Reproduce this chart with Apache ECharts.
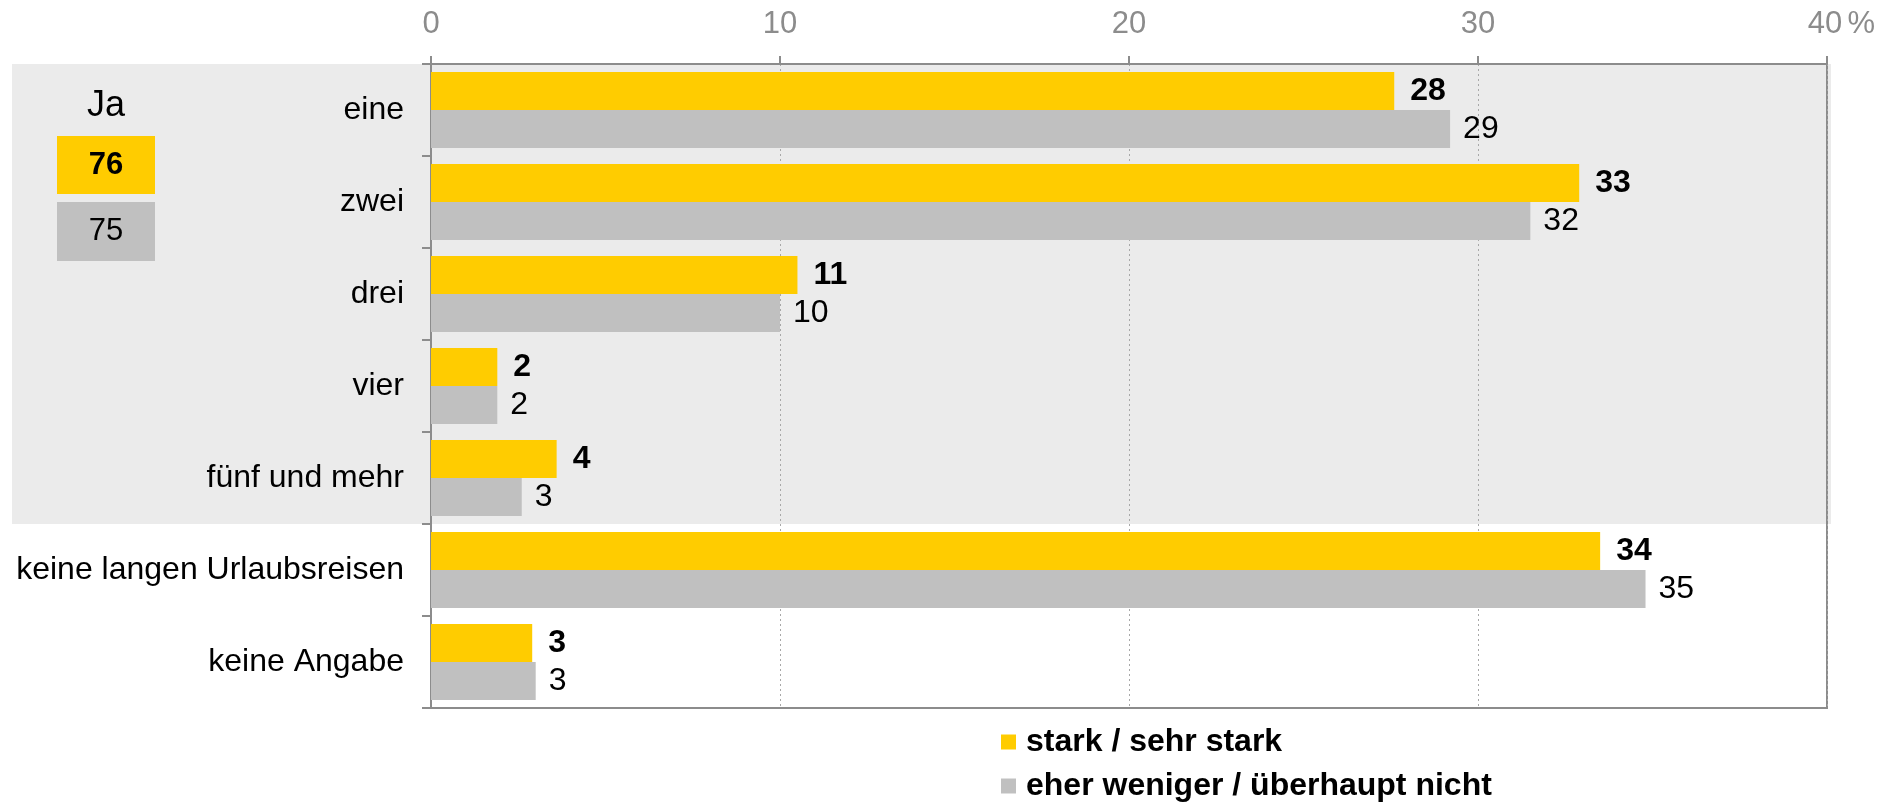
<!DOCTYPE html>
<html>
<head>
<meta charset="utf-8">
<script src="https://cdn.jsdelivr.net/npm/echarts@6/dist/echarts.min.js"></script>
<style>
  html, body { margin: 0; padding: 0; background: #fff; }
  #chart { width: 1901px; height: 805px; }
</style>
</head>
<body>
<div id="chart"></div>
<script>
const categories = ['eine', 'zwei', 'drei', 'vier', 'fünf und mehr', 'keine langen Urlaubsreisen', 'keine Angabe']
const seriesNames = ['stark / sehr stark', 'eher weniger / überhaupt nicht']
// bar lengths
const starkValues = [27.6, 32.9, 10.5, 1.9, 3.6, 33.5, 2.9]
const wenigerValues = [29.2, 31.5, 10.0, 1.9, 2.6, 34.8, 3.0]
// printed labels
const starkLabels = [28, 33, 11, 2, 4, 34, 3]
const wenigerLabels = [29, 32, 10, 2, 3, 35, 3]
const xTicks = [0, 10, 20, 30, 40]
const jaTitle = 'Ja'
const jaValues = [76, 75]

const yellow = '#ffcc00'
const grey = '#c0c0c0'
const axisGrey = '#8c8c8c'
const font = 'Liberation Sans, Arial, sans-serif'

const chart = echarts.init(document.getElementById('chart'))

const option = {
  animation: false,
  textStyle: { fontFamily: font },
  grid: {
    left: 431,
    right: 74,
    top: 64,
    bottom: 97,
    show: true,
    borderColor: axisGrey,
    borderWidth: 2,
    backgroundColor: 'transparent'
  },
  legend: {
    orient: 'vertical',
    left: 1001,
    top: 726,
    padding: 0,
    icon: 'rect',
    itemWidth: 15,
    itemHeight: 15,
    itemGap: 12,
    selectedMode: false,
    data: seriesNames,
    textStyle: {
      fontSize: 32,
      lineHeight: 32,
      fontWeight: 'bold',
      color: '#000',
      fontFamily: font,
      padding: [0, 0, 0, 5]
    }
  },
  xAxis: {
    type: 'value',
    position: 'top',
    min: xTicks[0],
    max: xTicks[xTicks.length - 1],
    interval: 10,
    axisLine: { show: true, lineStyle: { color: axisGrey, width: 2 } },
    axisTick: { show: true, length: 8, lineStyle: { color: axisGrey, width: 2 } },
    splitLine: { show: true, lineStyle: { color: '#a8a8a8', type: [2, 3], width: 1 } },
    axisLabel: {
      fontSize: 31,
      color: axisGrey,
      margin: 24,
      fontFamily: font,
      formatter: function (v) {
        if (v === 40) return '{pad|}{n|40}{p|%}'
        return String(v)
      },
      rich: {
        pad: { width: 30 },
        n: { fontSize: 31, color: axisGrey, fontFamily: font },
        p: { fontSize: 31, color: axisGrey, fontFamily: font, width: 30, padding: [0, 0, 0, 4] }
      }
    }
  },
  yAxis: {
    type: 'category',
    inverse: true,
    data: categories,
    axisLine: { show: true, lineStyle: { color: axisGrey, width: 2 } },
    axisTick: { show: true, length: 9, lineStyle: { color: axisGrey, width: 2 } },
    axisLabel: { fontSize: 32, color: '#000', margin: 27, fontFamily: font }
  },
  series: [
    {
      name: seriesNames[0],
      type: 'bar',
      data: starkValues,
      barWidth: 38,
      barGap: 0,
      itemStyle: { color: yellow },
      label: {
        show: true,
        position: 'right',
        distance: 16,
        fontSize: 32,
        fontWeight: 'bold',
        color: '#000',
        fontFamily: font,
        formatter: p => String(starkLabels[p.dataIndex])
      }
    },
    {
      name: seriesNames[1],
      type: 'bar',
      data: wenigerValues,
      barWidth: 38,
      barGap: 0,
      itemStyle: { color: grey },
      label: {
        show: true,
        position: 'right',
        distance: 13,
        fontSize: 32,
        color: '#000',
        fontFamily: font,
        formatter: p => String(wenigerLabels[p.dataIndex])
      }
    }
  ]
}

chart.setOption(option)

// grey band behind the first five categories, and the "Ja" box
const firstCenter = chart.convertToPixel({ yAxisIndex: 0 }, categories[0])
const secondCenter = chart.convertToPixel({ yAxisIndex: 0 }, categories[1])
const band = secondCenter - firstCenter
const bandTop = firstCenter - band / 2
const bandBottom = chart.convertToPixel({ yAxisIndex: 0 }, categories[4]) + band / 2

chart.setOption({
  graphic: [
    {
      type: 'rect',
      z: -10,
      silent: true,
      shape: { x: 12, y: bandTop, width: 1831 - 12, height: bandBottom - bandTop },
      style: { fill: '#ebebeb' }
    },
    {
      type: 'group',
      left: 57,
      top: 88,
      children: [
        {
          type: 'text',
          x: 49, y: 19,
          style: { text: jaTitle, fontSize: 36, fill: '#000', fontFamily: font, align: 'center', verticalAlign: 'middle' }
        },
        { type: 'rect', shape: { x: 0, y: 49, width: 98, height: 58 }, style: { fill: yellow } },
        {
          type: 'text',
          x: 49, y: 78,
          style: { text: String(jaValues[0]), fontSize: 31, fontWeight: 'bold', fill: '#000', fontFamily: font, align: 'center', verticalAlign: 'middle' }
        },
        { type: 'rect', shape: { x: 0, y: 115, width: 98, height: 59 }, style: { fill: grey } },
        {
          type: 'text',
          x: 49, y: 144,
          style: { text: String(jaValues[1]), fontSize: 31, fill: '#000', fontFamily: font, align: 'center', verticalAlign: 'middle' }
        }
      ]
    }
  ]
})
</script>
</body>
</html>
